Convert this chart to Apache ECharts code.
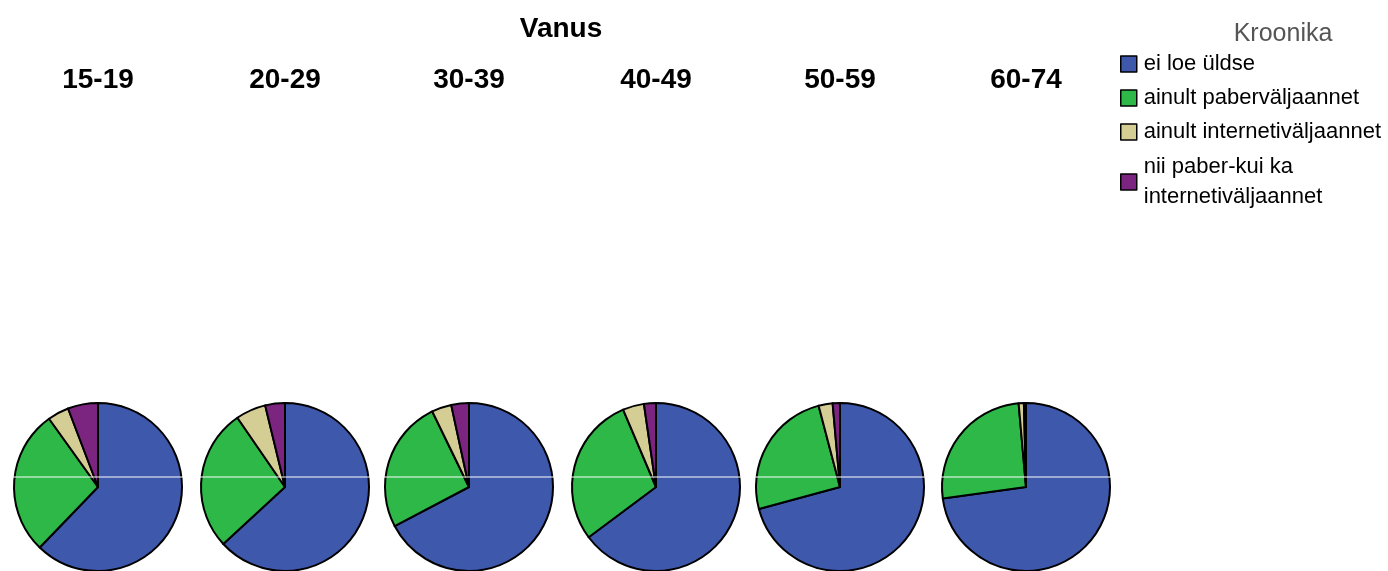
<!DOCTYPE html>
<html><head><meta charset="utf-8">
<script src="https://cdn.jsdelivr.net/npm/echarts@6/dist/echarts.min.js"></script>
<style>html,body{margin:0;padding:0;background:#fff}#c{width:1388px;height:571px}</style>
</head><body><div id="c"></div>
<script>
const ages = ['15-19', '20-29', '30-39', '40-49', '50-59', '60-74'];
const categories = ['ei loe üldse', 'ainult paberväljaannet', 'ainult internetiväljaannet', 'nii paber-kui ka internetiväljaannet'];
const eiLoe = [62.2, 63.2, 67.3, 64.8, 70.8, 72.8];
const paber = [27.9, 27.3, 25.5, 28.8, 25.1, 25.8];
const internet = [4.1, 5.8, 3.8, 4.1, 2.7, 1.0];
const molemad = [5.8, 3.8, 3.4, 2.3, 1.4, 0.4];
const colors = ['#3E58AC', '#2EB848', '#D4CE95', '#7C2580'];

const centersX = [98, 285, 469, 656, 840, 1026];
const seriesVals = [eiLoe, paber, internet, molemad];

const chart = echarts.init(document.getElementById('c'), null, {renderer: 'canvas'});
const hdr = {fontFamily: 'Liberation Sans, Arial', fontSize: 28, fontWeight: 'bold', color: '#000'};
const titles = [{ text: 'Vanus', left: 556, top: 10, textAlign: 'center', textStyle: hdr }];
ages.forEach((a, i) => titles.push({ text: a, left: centersX[i] - 5, top: 61, textAlign: 'center', textStyle: hdr }));
titles.push({
  text: 'Kroonika', left: 1278, top: 17, textAlign: 'center',
  textStyle: {fontFamily: 'Liberation Sans, Arial', fontSize: 25, fontWeight: 'normal', color: '#555'}
});

const series = ages.map((a, i) => ({
  type: 'pie',
  name: a,
  center: [centersX[i], 487],
  radius: [0, 84],
  startAngle: 90,
  clockwise: true,
  avoidLabelOverlap: false,
  label: {show: false},
  labelLine: {show: false},
  emphasis: {disabled: true},
  itemStyle: {borderColor: '#000', borderWidth: 2},
  data: categories.map((c, k) => ({name: c, value: seriesVals[k][i], itemStyle: {color: colors[k]}}))
}));

const lgFont = {fontFamily: 'Liberation Sans, Arial', fontSize: 22, color: '#000'};
chart.setOption({
  animation: false,
  backgroundColor: '#fff',
  color: colors,
  title: titles,
  legend: {
    orient: 'vertical', left: 1115, top: 45,
    icon: 'rect',
    itemWidth: 16, itemHeight: 16, itemGap: 6,
    selectedMode: false,
    data: categories,
    formatter: n => n === categories[3] ? '{w|nii paber-kui ka}\n{w|internetiväljaannet}' : n,
    itemStyle: {borderColor: '#000', borderWidth: 1.5},
    textStyle: Object.assign({lineHeight: 28, padding: [0, 0, 0, 2],
      rich: {w: Object.assign({lineHeight: 30}, lgFont)}}, lgFont)
  },
  series: series,
  graphic: [{
    type: 'line', z: 100,
    shape: {x1: 10, y1: 477, x2: 1112, y2: 477},
    style: {stroke: '#fff', lineWidth: 1}
  }]
});
</script></body></html>
